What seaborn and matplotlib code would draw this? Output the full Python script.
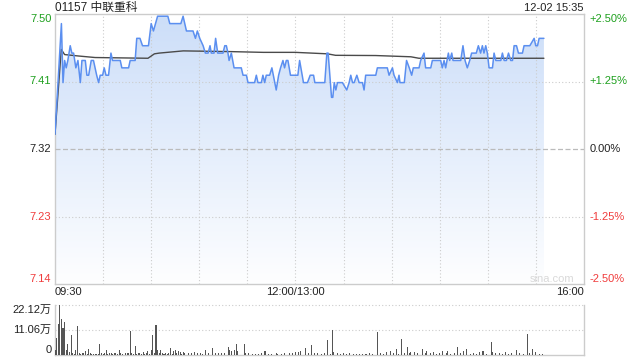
import numpy as np
import matplotlib
matplotlib.use("Agg")
import matplotlib.pyplot as plt
import seaborn as sns
from matplotlib.patches import Polygon
from matplotlib.transforms import blended_transform_factory

# ---------------- data ----------------
title = "01157 中联重科"
stamp = "12-02 15:35"
prev_close = 7.32
price_labels = ["7.50", "7.41", "7.32", "7.23", "7.14"]
pct_labels = ["+2.50%", "+1.25%", "0.00%", "-1.25%", "-2.50%"]
pct_levels = [0.025, 0.0125, 0.0, -0.0125, -0.025]
time_labels = ["09:30", "12:00/13:00", "16:00"]
time_pos = [0, 150, 330]
vol_labels = ["22.12万", "11.06万", "0"]
vol_levels = [22.12, 11.06, 0]

price_min = [0, 4, 5, 6, 7, 8, 9.5, 10.5, 11.6, 13, 14.3, 15.8, 16.8, 18.9, 19.9, 21, 22.6, 24, 26, 27.2,
             28.2, 29.7, 30.7, 31.8, 33.4, 34.9, 35.9, 40.7, 41.7, 45.9, 46.9, 50, 51, 53, 54.6, 58.3, 60,
             61.4, 64, 70.4, 71.6, 78.5, 79.9, 82, 86.1, 87.6, 88.8, 90.3, 92.4, 93.8, 95.5, 96.7, 97.5,
             99.2, 100.2, 101.5, 104.8, 105.9, 106.9, 107.9, 108.6, 110, 111.7, 116.2, 117.3, 119.4, 120.4,
             124.5, 125.6, 126.6, 128.7, 129.7, 130.8, 131.8, 133.9, 135.3, 136.2, 138, 139.5, 140.7, 142.2,
             143.2, 144.3, 145.3, 146.9, 151.5, 152.6, 155, 157.5, 159.2, 161.3, 162.1, 168.3, 169.6, 170.4,
             172.5, 173.3, 174.2, 175.2, 176.2, 179.3, 182, 183.5, 184.5, 185.6, 186.6, 188.3, 189.7, 191.8,
             192.8, 193.8, 200.1, 201.1, 207.3, 208.4, 210.5, 211.5, 213.6, 214.6, 215.2, 217.9, 219.3, 221,
             222.5, 223.5, 227.1, 228.1, 230.2, 231.2, 234.4, 235.4, 240.6, 241.6, 242.7, 243.7, 245.4, 246.2,
             247.5, 248.3, 253.1, 254.5, 255.8, 257.2, 258.7, 259.9, 262.8, 264.1, 265.5, 266.6, 267.6, 268.7,
             269.7, 270.8, 272.9, 273.9, 275, 278.1, 279.1, 280.2, 281.6, 282.9, 284.3, 285.4, 286.4, 287.9,
             289.1, 291.6, 292.6, 296.2, 298.9, 299.9, 301, 302, 305]
price_val = [7.34, 7.49, 7.41, 7.44, 7.43, 7.44, 7.46, 7.45, 7.45, 7.43, 7.44, 7.41, 7.44, 7.44, 7.42, 7.42,
             7.44, 7.44, 7.42, 7.41, 7.42, 7.42, 7.43, 7.42, 7.42, 7.45, 7.44, 7.44, 7.43, 7.43, 7.44, 7.44,
             7.47, 7.47, 7.46, 7.46, 7.49, 7.48, 7.50, 7.50, 7.49, 7.49, 7.50, 7.48, 7.48, 7.47, 7.48, 7.47,
             7.46, 7.45, 7.45, 7.46, 7.45, 7.45, 7.47, 7.45, 7.45, 7.46, 7.46, 7.45, 7.44, 7.45, 7.43, 7.43,
             7.42, 7.42, 7.41, 7.41, 7.42, 7.41, 7.41, 7.42, 7.41, 7.42, 7.42, 7.43, 7.42, 7.40, 7.42, 7.43,
             7.44, 7.43, 7.44, 7.44, 7.42, 7.42, 7.44, 7.41, 7.41, 7.42, 7.42, 7.41, 7.41, 7.45, 7.45, 7.39,
             7.39, 7.41, 7.40, 7.41, 7.41, 7.40, 7.41, 7.42, 7.41, 7.41, 7.42, 7.41, 7.41, 7.40, 7.42, 7.42,
             7.43, 7.43, 7.42, 7.43, 7.42, 7.41, 7.42, 7.41, 7.41, 7.44, 7.43, 7.42, 7.43, 7.43, 7.44, 7.45,
             7.43, 7.43, 7.44, 7.44, 7.43, 7.44, 7.43, 7.45, 7.44, 7.45, 7.44, 7.44, 7.46, 7.44, 7.43, 7.44,
             7.45, 7.45, 7.46, 7.45, 7.46, 7.45, 7.46, 7.45, 7.43, 7.43, 7.45, 7.44, 7.44, 7.45, 7.44, 7.44,
             7.45, 7.44, 7.44, 7.46, 7.46, 7.45, 7.45, 7.46, 7.46, 7.47, 7.46, 7.46, 7.47, 7.47]

avg_min = [0, 3.9, 6, 15, 25, 58, 62, 65, 80, 110, 130, 150, 170, 175, 200, 222, 227, 305]
avg_val = [7.34, 7.455, 7.448, 7.446, 7.444, 7.443, 7.449, 7.450, 7.453, 7.452, 7.451, 7.451, 7.449,
           7.447, 7.4467, 7.445, 7.443, 7.443]

vol_min = [0, 1, 2, 3, 4, 5, 6, 7, 8, 9, 10, 11, 12, 13, 14, 15, 16, 17, 18, 19, 20, 21, 22, 23, 24, 25, 26,
           27, 28, 29, 30, 31, 32, 33, 34, 35, 36, 37, 38, 39, 40, 41, 42, 44, 45, 46, 47, 48, 49, 50, 51,
           52, 53, 54, 55, 56, 57, 58, 59, 60, 61, 62, 63, 64, 65, 66, 67, 68, 69, 70, 71, 72, 73, 74, 75,
           76, 77, 78, 79, 80, 81, 83, 85, 87, 89, 91, 92, 94, 96, 98, 100, 102, 104, 106, 108, 109, 110,
           112, 113, 114, 118, 119, 121, 123, 125, 127, 129, 131, 133, 135, 138, 139, 141, 143, 146, 148,
           150, 152, 153, 156, 158, 160, 162, 164, 166, 168, 170, 172, 173, 174, 176, 178, 180, 182, 184,
           186, 188, 190, 192, 194, 196, 198, 201, 203, 205, 207, 209, 211, 213, 214, 216, 218, 220, 221,
           222, 224, 226, 229, 231, 232, 234, 236, 238, 240, 242, 244, 245, 247, 249, 251, 253, 255, 257,
           259, 261, 263, 265, 267, 269, 272, 273, 275, 277, 279, 281, 283, 285, 288, 290, 292, 295, 296,
           298, 300, 302, 304]
vol_wan = [2.0, 7.6, 13.7, 22.12, 15.9, 11.8, 14.7, 2.0, 5.0, 1.3, 8.8, 1.0, 0.6, 2.2, 12.9, 0.8, 0.5, 0.8,
           1.0, 1.8, 0.5, 2.8, 0.7, 0.5, 0.4, 0.5, 0.4, 0.6, 4.7, 0.7, 0.6, 1.0, 2.2, 0.6, 0.7, 0.7, 0.5,
           0.7, 1.0, 0.5, 2.2, 0.7, 0.5, 1.0, 0.7, 0.7, 10.8, 0.7, 0.5, 4.0, 0.6, 1.0, 1.0, 0.5, 1.3, 0.5,
           0.7, 1.8, 0.6, 2.2, 8.7, 0.8, 13.3, 2.1, 0.8, 2.2, 0.7, 0.5, 1.0, 0.5, 1.0, 3.1, 0.5, 1.8, 2.2,
           1.0, 1.8, 1.3, 0.5, 1.3, 0.7, 0.7, 1.0, 1.3, 1.0, 0.7, 0.5, 2.2, 1.0, 3.0, 1.0, 0.7, 0.7, 0.7,
           3.5, 2.2, 1.8, 2.2, 4.7, 1.8, 4.7, 0.7, 0.7, 0.4, 0.4, 0.4, 0.7, 1.8, 0.4, 0.4, 1.0, 0.4, 0.4,
           0.7, 1.0, 1.0, 1.3, 1.3, 1.8, 3.0, 0.7, 4.4, 0.7, 0.7, 0.5, 0.7, 6.6, 0.6, 11.06, 1.5, 0.7, 0.5,
           0.7, 0.5, 0.7, 0.5, 0.6, 0.5, 0.6, 0.5, 0.7, 0.5, 10.3, 0.7, 0.6, 1.5, 1.9, 0.7, 2.7, 0.6, 7.1,
           1.0, 3.4, 1.0, 1.5, 1.5, 0.7, 2.7, 0.8, 1.9, 0.7, 1.5, 0.6, 0.7, 1.9, 0.7, 1.9, 0.6, 0.7, 3.4,
           0.7, 1.9, 2.7, 0.6, 0.7, 0.6, 1.5, 1.9, 0.6, 5.8, 1.5, 0.7, 0.7, 0.6, 1.5, 0.6, 0.7, 2.2, 0.7,
           0.6, 9.3, 0.7, 2.7, 1.5, 0.6, 0.5]

# ---------------- style ----------------
sns.set_theme(style="white")
plt.rcParams['font.family'] = ['Liberation Sans', 'Noto Sans CJK SC', 'DejaVu Sans']

UP = '#1ea01e'
DOWN = '#f03c3c'
GRID = '#cccccc'
FS = 8

W, H = 640, 360
fig = plt.figure(figsize=(6.4, 3.6), dpi=100)
fig.patch.set_facecolor('white')
ax = fig.add_axes([55 / W, 1 - 284 / H, 529 / W, 270 / H])
axv = fig.add_axes([55 / W, 1 - 355 / H, 529 / W, 50 / H])

ylo = prev_close * (1 - 0.025)
yhi = prev_close * (1 + 0.025)

for a in (ax, axv):
    a.set_xlim(0, 330)
    a.set_xticks([])
    a.set_yticks([])
    a.set_facecolor('white')
    for s in a.spines.values():
        s.set_color(GRID)
        s.set_linewidth(1)
ax.set_ylim(ylo, yhi)
axv.set_ylim(0, vol_levels[0])

# grid main (drawn above the gradient fill)
for m in range(30, 330, 30):
    ax.axvline(m, color=GRID, lw=0.8, ls=(0, (1, 2)), zorder=3)
ax.axhline(prev_close * 1.0125, color=GRID, lw=0.8, ls=(0, (1, 2)), zorder=3)
ax.axhline(prev_close * 0.9875, color=GRID, lw=0.8, ls=(0, (1, 2)), zorder=3)
ax.axhline(prev_close, color='#bbbbbb', lw=0.9, ls=(0, (4, 2)), zorder=3)

# gradient fill under price
poly_x = [price_min[0]] + price_min + [price_min[-1]]
poly_y = [ylo] + price_val + [ylo]
poly = Polygon(np.column_stack([poly_x, poly_y]), closed=True, facecolor='none', edgecolor='none',
               transform=ax.transData)
ax.add_patch(poly)
top_c = np.array([0.80, 0.87, 0.975])
bot_c = np.array([0.995, 0.997, 1.0])
t = np.linspace(0, 1, 256)[:, None]
grad = (bot_c[None, :] * (1 - t) + top_c[None, :] * t)[:, None, :]
im = ax.imshow(grad, extent=[0, 330, ylo, yhi], origin='lower', aspect='auto', zorder=2,
               interpolation='bilinear')
im.set_clip_path(poly)

sns.lineplot(x=avg_min, y=avg_val, ax=ax, color='#4a4a4a', lw=1.0, sort=False, zorder=4)
sns.lineplot(x=price_min, y=price_val, ax=ax, color='#5b8ff0', lw=1.1, sort=False, zorder=5)
ax.set_xlabel('')
ax.set_ylabel('')
ax.set_xlim(0, 330)
ax.set_ylim(ylo, yhi)

# price/pct labels
tr = blended_transform_factory(ax.transAxes, ax.transData)
colors = [UP, UP, '#222222', DOWN, DOWN]
vas = ['top', 'center', 'center', 'center', 'bottom']
for lab, pl, pct, c, va in zip(price_labels, pct_levels, pct_labels, colors, vas):
    yv = prev_close * (1 + pl)
    ax.text(-0.007, yv, lab, transform=tr, ha='right', va=va, color=c, fontsize=FS)
    ax.text(1.011, yv, pct, transform=tr, ha='left', va=va, color=c, fontsize=FS)

# time labels
trx = blended_transform_factory(ax.transData, ax.transAxes)
for lab, m, ha in zip(time_labels, time_pos, ['left', 'center', 'right']):
    ax.text(m, -0.012, lab, transform=trx, ha=ha, va='top', color='#222222', fontsize=FS)

# watermark
ax.text(0.94, 0.018, 'sina.com', transform=ax.transAxes, ha='center', va='center',
        color='#d9d9d9', fontsize=8, zorder=6)

# title + stamp
fig.text(55 / W, 1 - 8 / H, title, ha='left', va='center', color='#222222', fontsize=8.5)
fig.text(583 / W, 1 - 8 / H, stamp, ha='right', va='center', color='#222222', fontsize=8)

# volume panel
axv.bar(vol_min, vol_wan, width=0.65, color='#555555', linewidth=0, zorder=3)
axv.spines['top'].set_visible(False)
axv.axhline(vol_levels[0], color=GRID, lw=0.8, ls=(0, (1, 2)), zorder=1, clip_on=False)
axv.axhline(vol_levels[1], color=GRID, lw=0.8, ls=(0, (1, 2)), zorder=1)
trv = blended_transform_factory(axv.transAxes, axv.transData)
for lab, lv, va in zip(vol_labels, vol_levels, ['top', 'center', 'bottom']):
    axv.text(-0.007, lv, lab, transform=trv, ha='right', va=va, color='#222222', fontsize=FS)

fig.savefig('out.png', dpi=100, facecolor='white')
